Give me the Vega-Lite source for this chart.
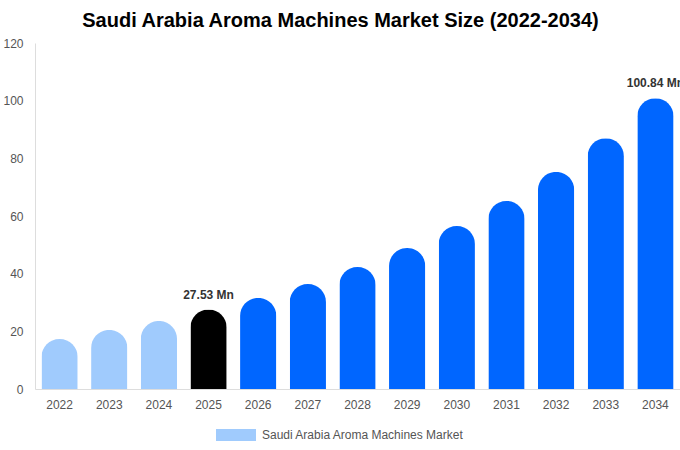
{
  "$schema": "https://vega.github.io/schema/vega-lite/v6.json",
  "width": 645,
  "height": 346,
  "autosize": {"type": "none"},
  "padding": {"left": 35, "top": 43, "right": 0, "bottom": 61},
  "title": {
    "text": "Saudi Arabia Aroma Machines Market Size (2022-2034)",
    "fontSize": 20,
    "fontWeight": "bold",
    "color": "#000000",
    "font": "Liberation Sans",
    "anchor": "middle",
    "dx": -17,
    "offset": 6
  },
  "data": {
    "values": [
      {"year": "2022", "value": 17.3, "series": "Saudi Arabia Aroma Machines Market", "label": ""},
      {"year": "2023", "value": 20.5, "series": "Saudi Arabia Aroma Machines Market", "label": ""},
      {"year": "2024", "value": 23.6, "series": "Saudi Arabia Aroma Machines Market", "label": ""},
      {"year": "2025", "value": 27.53, "series": "Saudi Arabia Aroma Machines Market", "label": "27.53 Mn"},
      {"year": "2026", "value": 31.6, "series": "Saudi Arabia Aroma Machines Market", "label": ""},
      {"year": "2027", "value": 36.4, "series": "Saudi Arabia Aroma Machines Market", "label": ""},
      {"year": "2028", "value": 42.3, "series": "Saudi Arabia Aroma Machines Market", "label": ""},
      {"year": "2029", "value": 48.9, "series": "Saudi Arabia Aroma Machines Market", "label": ""},
      {"year": "2030", "value": 56.5, "series": "Saudi Arabia Aroma Machines Market", "label": ""},
      {"year": "2031", "value": 65.2, "series": "Saudi Arabia Aroma Machines Market", "label": ""},
      {"year": "2032", "value": 75.3, "series": "Saudi Arabia Aroma Machines Market", "label": ""},
      {"year": "2033", "value": 87.0, "series": "Saudi Arabia Aroma Machines Market", "label": ""},
      {"year": "2034", "value": 100.84, "series": "Saudi Arabia Aroma Machines Market", "label": "100.84 Mn"}
    ]
  },
  "encoding": {
    "x": {
      "field": "year",
      "type": "nominal",
      "title": null,
      "scale": {"paddingInner": 0.27, "paddingOuter": 0.13},
      "axis": {
        "labelAngle": 0,
        "ticks": false,
        "labelPadding": 10,
        "domainColor": "#dddddd",
        "labelColor": "#555555",
        "labelFontSize": 12,
        "labelFont": "Liberation Sans"
      }
    },
    "y": {
      "field": "value",
      "type": "quantitative",
      "title": null,
      "scale": {"domain": [0, 120]},
      "axis": {
        "values": [0, 20, 40, 60, 80, 100, 120],
        "grid": false,
        "ticks": false,
        "labelPadding": 12,
        "domainColor": "#dddddd",
        "labelColor": "#555555",
        "labelFontSize": 12,
        "labelFont": "Liberation Sans"
      }
    }
  },
  "layer": [
    {
      "mark": {"type": "bar", "cornerRadiusTopLeft": 18, "cornerRadiusTopRight": 18},
      "encoding": {
        "color": {
          "condition": [
            {"test": "datum.year == '2025'", "value": "#000000"},
            {"test": "toNumber(datum.year) > 2025", "value": "#0066ff"}
          ],
          "field": "series",
          "type": "nominal",
          "scale": {"range": ["#a0cbfd"]},
          "legend": {
            "title": null,
            "orient": "none",
            "legendX": 181,
            "legendY": 372,
            "direction": "horizontal",
            "symbolType": "M-1,-0.3H1V0.3H-1Z",
            "symbolSize": 1600,
            "symbolStrokeWidth": 0,
            "labelFontSize": 12,
            "labelColor": "#555555",
            "labelFont": "Liberation Sans",
            "labelLimit": 0,
            "labelOffset": 6
          }
        }
      }
    },
    {
      "transform": [{"filter": "datum.label != ''"}],
      "mark": {
        "type": "text",
        "dy": -8,
        "baseline": "bottom",
        "fontWeight": "bold",
        "fontSize": 12,
        "font": "Liberation Sans",
        "color": "#333333"
      },
      "encoding": {
        "text": {"field": "label"}
      }
    }
  ],
  "config": {
    "view": {"stroke": null},
    "font": "Liberation Sans"
  }
}
